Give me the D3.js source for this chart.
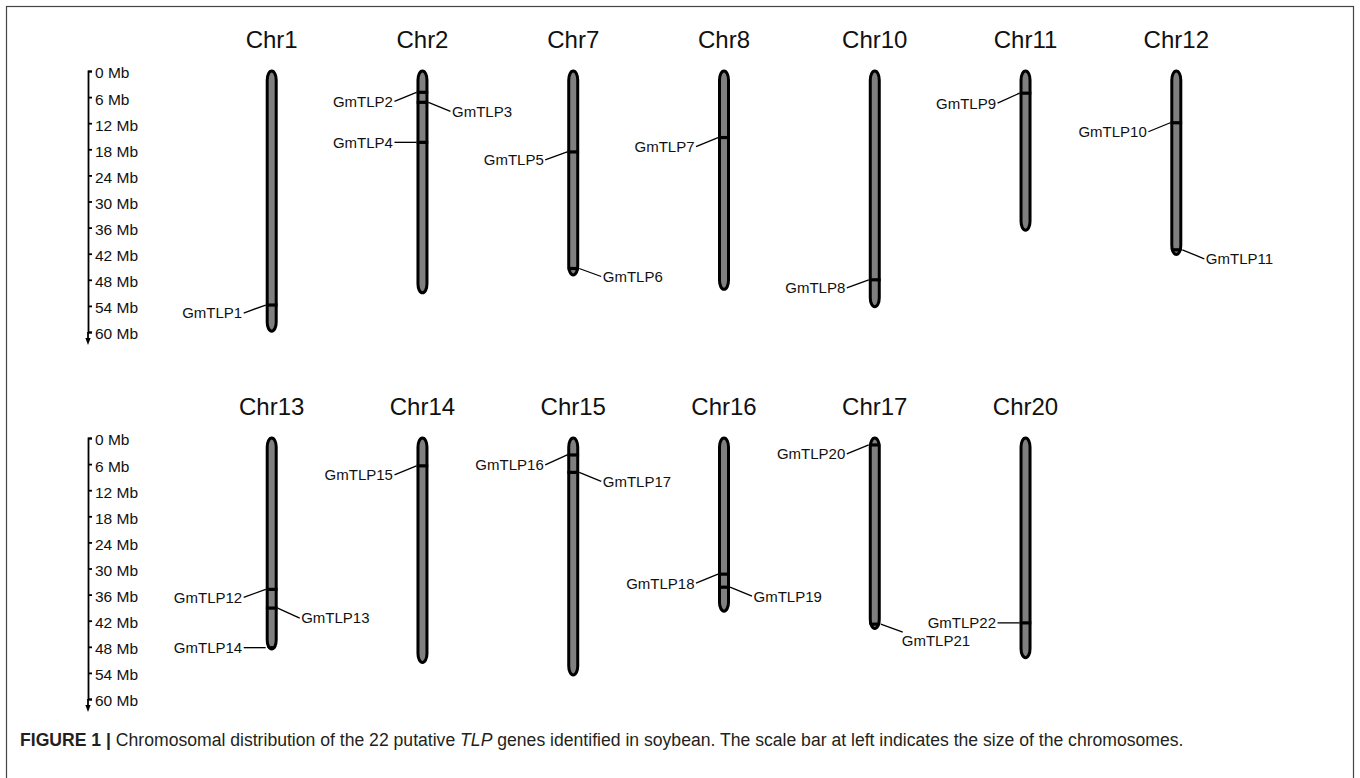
<!DOCTYPE html>
<html>
<head>
<meta charset="utf-8">
<script src="https://cdn.jsdelivr.net/npm/d3@7"></script>
<style>
  html, body { margin: 0; padding: 0; background: #fff; }
  svg text { font-family: "Liberation Sans", Arial, sans-serif; }
</style>
</head>
<body>
<svg id="fig"></svg>
<script>
(function(d3) {

  // Chromosomes, in drawing order (first 7 on top row)
  var chromosomes = ["Chr1", "Chr2", "Chr7", "Chr8", "Chr10", "Chr11", "Chr12",
                     "Chr13", "Chr14", "Chr15", "Chr16", "Chr17", "Chr20"];
  var chromLengthMb = [59.8, 51.0, 46.9, 50.2, 54.2, 36.6, 42.2,
                       48.5, 51.6, 54.5, 39.8, 43.8, 50.5];

  // Genes and where they sit
  var genes = ["GmTLP1", "GmTLP2", "GmTLP3", "GmTLP4", "GmTLP5", "GmTLP6", "GmTLP7",
               "GmTLP8", "GmTLP9", "GmTLP10", "GmTLP11", "GmTLP12", "GmTLP13", "GmTLP14",
               "GmTLP15", "GmTLP16", "GmTLP17", "GmTLP18", "GmTLP19", "GmTLP20",
               "GmTLP21", "GmTLP22"];
  var geneChrom = ["Chr1", "Chr2", "Chr2", "Chr2", "Chr7", "Chr7", "Chr8",
                   "Chr10", "Chr11", "Chr12", "Chr12", "Chr13", "Chr13", "Chr13",
                   "Chr14", "Chr15", "Chr15", "Chr16", "Chr16", "Chr17",
                   "Chr17", "Chr20"];
  var genePosMb = [53.8, 4.9, 7.2, 16.4, 18.6, 45.4, 15.3,
                   48.0, 5.1, 11.9, 41.1, 34.8, 39.1, 48.2,
                   6.4, 3.9, 7.9, 31.3, 34.3, 1.6,
                   42.8, 42.5];
  var geneSide = ["L", "L", "R", "L", "L", "R", "L",
                  "L", "L", "L", "R", "L", "R", "L",
                  "L", "L", "R", "L", "R", "L",
                  "R", "L"];

  // Scale bar
  var tickMb = [0, 6, 12, 18, 24, 30, 36, 42, 48, 54, 60];

  // Label layout: how far the label end drops below its marker (px)
  var labelDrop = [8, 9, 9, 0, 8, 8, 9,
                   8, 10, 9, 9, 8, 10, 0,
                   9, 10, 9, 9, 9, 9,
                   8, 0];
  // GmTLP21 sits under the end of its leader
  var textBelow = { "GmTLP21": 8 };

  var W = 1360, H = 778,
      rowTop = [71, 438],
      perRow = 7,
      halfW = 4.5;

  var svg = d3.select("#fig")
    .attr("width", W)
    .attr("height", H);

  // Frame round the figure (open at the bottom)
  svg.append("rect")
    .attr("x", 6.5)
    .attr("y", 6.5)
    .attr("width", W - 13)
    .attr("height", H + 20)
    .attr("fill", "none")
    .attr("stroke", "#444")
    .attr("stroke-width", 1.2);

  var y = d3.scaleLinear()
    .domain([0, 60])
    .range([0, 261]);

  var x = d3.scalePoint()
    .domain(d3.range(perRow))
    .range([271.7, 1176.3]);

  var defs = svg.append("defs");

  //** Scale bars **//

  rowTop.forEach(function(top, r) {
    var g = svg.append("g")
      .attr("transform", "translate(88," + top + ")");

    g.call(d3.axisRight(y)
        .tickValues(tickMb)
        .tickFormat(function(d) { return d + " Mb"; })
        .tickSize(4)
        .tickPadding(3));

    g.selectAll(".domain, .tick line")
      .attr("stroke", "#000")
      .attr("stroke-width", 1.8);
    g.selectAll(".tick text")
      .attr("font-size", "15.5px")
      .attr("font-family", "'Liberation Sans', Arial, sans-serif")
      .attr("fill", "#111")
      .attr("dy", "0.45em");

    // arrow below the 60 Mb tick
    g.append("line")
      .attr("x1", 0).attr("x2", 0)
      .attr("y1", y(60)).attr("y2", y(60) + 8)
      .attr("stroke", "#000")
      .attr("stroke-width", 1.8);
    g.append("path")
      .attr("d", "M-2.6," + (y(60) + 6) + "L2.6," + (y(60) + 6) + "L0," + (y(60) + 13) + "Z")
      .attr("fill", "#000");
  });

  //** Chromosomes **//

  var chromData = chromosomes.map(function(name, i) {
    return { name: name, len: chromLengthMb[i], row: Math.floor(i / perRow), col: i % perRow, idx: i };
  });

  var chromG = svg.selectAll("g.chrom")
    .data(chromData)
    .enter().append("g")
    .attr("class", "chrom")
    .attr("transform", function(d) { return "translate(" + x(d.col) + "," + rowTop[d.row] + ")"; });

  // clip for bands at the rounded ends
  defs.selectAll("clipPath")
    .data(chromData)
    .enter().append("clipPath")
    .attr("id", function(d) { return "clip" + d.idx; })
    .append("rect")
    .attr("x", -halfW - 1.5)
    .attr("y", -1.5)
    .attr("width", 2 * halfW + 3)
    .attr("height", function(d) { return y(d.len) + 3; })
    .attr("rx", halfW + 1.5)
    .attr("ry", 10.5);

  chromG.append("text")
    .text(function(d) { return d.name; })
    .attr("x", 0)
    .attr("y", -23)
    .attr("text-anchor", "middle")
    .attr("font-size", "24px")
    .attr("fill", "#111");

  chromG.append("rect")
    .attr("x", -halfW)
    .attr("y", 0)
    .attr("width", 2 * halfW)
    .attr("height", function(d) { return y(d.len); })
    .attr("rx", halfW)
    .attr("ry", 9)
    .attr("fill", "#808080")
    .attr("stroke", "#000")
    .attr("stroke-width", 3);

  //** Genes **//

  var geneData = genes.map(function(name, i) {
    var ci = chromosomes.indexOf(geneChrom[i]);
    return { name: name, pos: genePosMb[i], side: geneSide[i], drop: labelDrop[i], ci: ci };
  });

  chromG.each(function(c) {
    var g = d3.select(this);
    var mine = geneData.filter(function(d) { return d.ci === c.idx; });

    g.selectAll("rect.band")
      .data(mine)
      .enter().append("rect")
      .attr("class", "band")
      .attr("x", -halfW - 1.5)
      .attr("width", 2 * halfW + 3)
      .attr("y", function(d) { return y(d.pos) - 1.6; })
      .attr("height", 3.2)
      .attr("fill", "#000")
      .attr("clip-path", "url(#clip" + c.idx + ")");

    g.selectAll("line.lead")
      .data(mine)
      .enter().append("line")
      .attr("class", "lead")
      .attr("x1", function(d) { return d.side === "L" ? -halfW - 1.5 : halfW + 1.5; })
      .attr("x2", function(d) { return d.side === "L" ? -28 : 28; })
      .attr("y1", function(d) { return y(d.pos); })
      .attr("y2", function(d) { return y(d.pos) + d.drop; })
      .attr("stroke", "#000")
      .attr("stroke-width", 1.3);

    g.selectAll("text.gene")
      .data(mine)
      .enter().append("text")
      .attr("class", "gene")
      .text(function(d) { return d.name; })
      .attr("x", function(d) {
        if (textBelow[d.name]) return 27;
        return d.side === "L" ? -29.5 : 29.5;
      })
      .attr("y", function(d) { return y(d.pos) + d.drop + (textBelow[d.name] || 0); })
      .attr("dy", "0.36em")
      .attr("text-anchor", function(d) { return d.side === "L" ? "end" : "start"; })
      .attr("font-size", "15px")
      .attr("fill", "#111");
  });

  //** Caption **//

  var cap = svg.append("text")
    .attr("x", 20)
    .attr("y", 746)
    .attr("font-size", "17.6px")
    .attr("fill", "#231f20");
  cap.append("tspan").attr("font-weight", "bold").text("FIGURE 1 | ");
  cap.append("tspan").text("Chromosomal distribution of the 22 putative ");
  cap.append("tspan").attr("font-style", "italic").text("TLP");
  cap.append("tspan").text(" genes identified in soybean. The scale bar at left indicates the size of the chromosomes.");

})(d3);
</script>
</body>
</html>
